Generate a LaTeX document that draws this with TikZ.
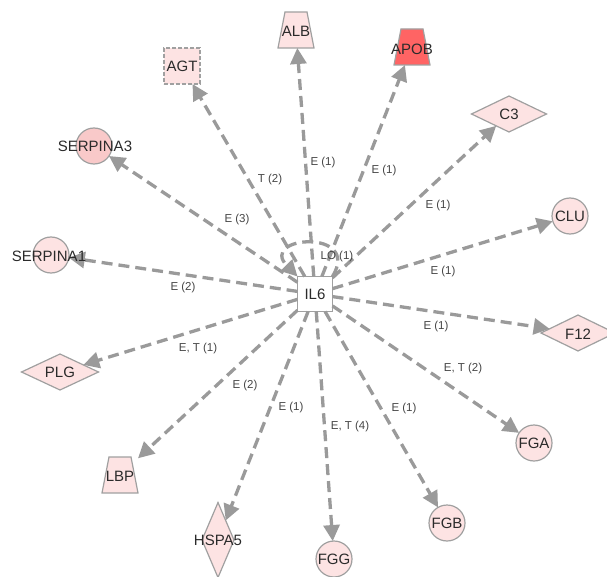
\documentclass[tikz,border=0pt]{standalone}
\usepackage{fontspec}
\setmainfont{Liberation Sans}
\usetikzlibrary{shapes.geometric,arrows.meta}
\definecolor{nfill}{HTML}{FDE3E3}
\definecolor{nfilldark}{HTML}{F9C9C9}
\definecolor{redfill}{HTML}{FF6464}
\definecolor{nborder}{HTML}{A0A0A0}
\definecolor{egray}{HTML}{9A9A9A}
\definecolor{txt}{HTML}{2B2B2B}
\definecolor{ltxt}{HTML}{454545}
\newcommand{\trapoutline}[2]{%
  \filldraw[shapebase, fill=#2] ([xshift=7pt]#1.north west) -- ([xshift=-7pt]#1.north east)
    -- (#1.south east) -- (#1.south west) -- cycle;}
\begin{document}
\begin{tikzpicture}[x=1pt,y=-1pt,
  shapebase/.style={draw=nborder, fill=nfill, line width=1.2pt, inner sep=0pt, outer sep=0pt},
  circ/.style={shapebase, circle, minimum size=36pt},
  dia/.style={shapebase, diamond},
  tbox/.style={rectangle, inner sep=0pt, outer sep=0pt, minimum width=36pt, minimum height=36pt},
  sqbox/.style={shapebase, rectangle, minimum width=36pt, minimum height=36pt},
  gtext/.style={font=\fontsize{15}{15}\selectfont, text=txt, inner sep=0pt},
  edge/.style={draw=egray, line width=3.3pt, dash pattern=on 11pt off 6pt, -{Triangle[length=16pt,width=16pt]}},
  elabel/.style={font=\fontsize{11.5}{11.5}\selectfont, text=ltxt, inner sep=1pt},
]
\useasboundingbox (0,0) rectangle (607,577);
\clip (0,0) rectangle (607,577);

% shapes
\node[sqbox, fill=white, draw=nborder, line width=1.5pt, minimum width=35pt, minimum height=35pt] (IL6) at (315,294) {};
\node[sqbox, dashed, dash pattern=on 4pt off 2pt] (AGT) at (182,66) {};
\node[tbox] (ALB) at (296,30) {};
\trapoutline{ALB}{nfill}
\node[tbox] (APOB) at (412,47) {};
\trapoutline{APOB}{redfill}
\node[dia, minimum width=75pt, minimum height=36pt] (C3) at (509,114) {};
\node[circ] (CLU) at (570,216) {};
\node[dia, minimum width=74pt, minimum height=36pt] (F12) at (578,333) {};
\node[circ] (FGA) at (534,443) {};
\node[circ] (FGB) at (447,523) {};
\node[circ] (FGG) at (334,559) {};
\node[dia, minimum width=32pt, minimum height=75pt] (HSPA5) at (218,540) {};
\node[tbox] (LBP) at (120,475) {};
\trapoutline{LBP}{nfill}
\node[dia, minimum width=77pt, minimum height=36pt] (PLG) at (60,372) {};
\node[circ] (SERPINA1) at (51,255) {};
\node[circ, fill=nfilldark] (SERPINA3) at (94,146) {};

% connectors
\draw[edge] (IL6) -- (AGT) node[elabel] (lAGT) at (270,180) {T (2)};
\draw[edge] (IL6) -- (ALB) node[elabel] (lALB) at (323,163) {E (1)};
\draw[edge] (IL6) -- (APOB) node[elabel] (lAPOB) at (384,171) {E (1)};
\draw[edge] (IL6) -- (C3) node[elabel] (lC3) at (438,206) {E (1)};
\draw[edge] (IL6) -- (CLU) node[elabel] (lCLU) at (443,272) {E (1)};
\draw[edge] (IL6) -- (F12) node[elabel] (lF12) at (436,327) {E (1)};
\draw[edge] (IL6) -- (FGA) node[elabel] (lFGA) at (463,369) {E, T (2)};
\draw[edge] (IL6) -- (FGB) node[elabel] (lFGB) at (404,409) {E (1)};
\draw[edge] (IL6) -- (FGG) node[elabel] (lFGG) at (350,427) {E, T (4)};
\draw[edge] (IL6) -- (HSPA5) node[elabel] (lHSPA5) at (291,408) {E (1)};
\draw[edge] (IL6) -- (LBP) node[elabel] (lLBP) at (245,386) {E (2)};
\draw[edge] (IL6) -- (PLG) node[elabel] (lPLG) at (198,349) {E, T (1)};
\draw[edge] (IL6) -- (SERPINA1) node[elabel] (lSERPINA1) at (183,288) {E (2)};
\draw[edge] (IL6) -- (SERPINA3) node[elabel] (lSERPINA3) at (237,220) {E (3)};
\draw[edge] (IL6.north east) .. controls (362,228) and (258,236) .. (IL6.north west)
  node[elabel] (lLO) at (337,257) {LO (1)};

% texts
\node[gtext] (tIL6) at (IL6) {IL6};
\node[gtext] (tAGT) at (AGT) {AGT};
\node[gtext] (tALB) at (296,31) {ALB};
\node[gtext] (tAPOB) at (412,49) {APOB};
\node[gtext] (tC3) at (C3) {C3};
\node[gtext] (tCLU) at (CLU) {CLU};
\node[gtext] (tF12) at (578,334) {F12};
\node[gtext] (tFGA) at (FGA) {FGA};
\node[gtext] (tFGB) at (FGB) {FGB};
\node[gtext] (tFGG) at (FGG) {FGG};
\node[gtext] (tHSPA5) at (HSPA5) {HSPA5};
\node[gtext] (tLBP) at (120,476) {LBP};
\node[gtext] (tPLG) at (PLG) {PLG};
\node[gtext] (tSERPINA1) at (49,256) {SERPINA1};
\node[gtext] (tSERPINA3) at (95,146) {SERPINA3};
\end{tikzpicture}
\end{document}
